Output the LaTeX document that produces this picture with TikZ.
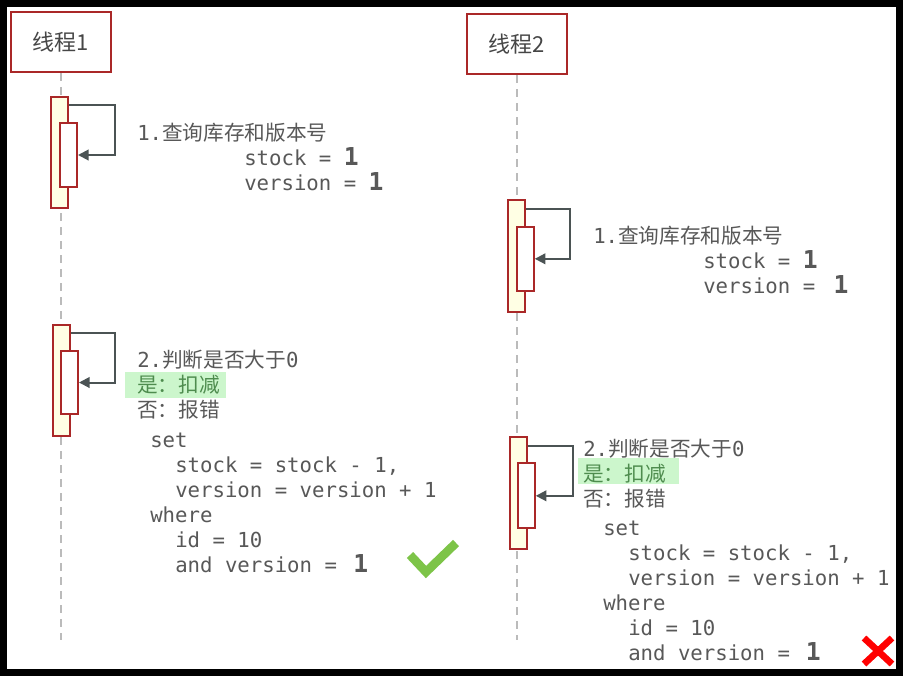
\documentclass[tikz,border=0pt]{standalone}
\usepackage{fontspec}
\setmonofont{DejaVu Sans Mono}
\newfontfamily\cjk{Noto Sans CJK SC}
\usetikzlibrary{arrows.meta,calc}
\definecolor{redline}{RGB}{170,40,40}
\definecolor{barfill}{RGB}{255,255,228}
\definecolor{txtgray}{RGB}{88,88,88}
\definecolor{arrgray}{RGB}{75,83,84}
\definecolor{greenbg}{RGB}{204,246,204}
\definecolor{greentxt}{RGB}{78,140,78}
\definecolor{checkgreen}{RGB}{125,196,72}
\definecolor{lifegray}{RGB}{187,187,187}
\newcommand{\bone}{{\fontsize{18.5pt}{18pt}\selectfont\bfseries 1}}
\newcommand{\mcj}[1]{{\cjk #1}}
\begin{document}
\begin{tikzpicture}[x=0.75pt,y=-0.75pt,
  participant/.style={draw=redline,line width=1.6pt,fill=white,minimum width=75pt,minimum height=45pt,inner sep=0pt,
     font=\cjk\fontsize{16.5pt}{18pt}\selectfont,text=txtgray!80!black},
  actbar/.style={draw=redline,line width=1.5pt,fill=barfill,minimum width=12.75pt,minimum height=#1,inner sep=0pt},
  inbar/.style={draw=redline,line width=1.5pt,fill=white,minimum width=12.75pt,minimum height=#1,inner sep=0pt},
  life/.style={draw=lifegray,line width=1.5pt,dash pattern=on 6pt off 4.5pt},
  msg/.style={draw=arrgray,line width=1.5pt,-{Triangle[length=8pt,width=8pt]}},
  code/.style={anchor=base west,inner sep=0pt,text=txtgray,font=\ttfamily\fontsize{15.5pt}{18pt}\selectfont},
  hl/.style={fill=greenbg,inner sep=0pt,minimum width=75.75pt,minimum height=19pt},
]
\useasboundingbox (0,0) rectangle (903,676);
\fill[white] (0,0) rectangle (903,676);
% participants
\node[participant] (p1) at (61,42) {线程1};
\node[participant] (p2) at (517,44) {线程2};
\coordinate (e1) at (61,640);
\coordinate (e2) at (517,640);
\draw[life] (p1.south) -- (e1);
\draw[life] (p2.south) -- (e2);
% activation bars thread 1
\node[actbar=83.25pt] (o1a) at (59.5,152.5) {};
\node[inbar=48pt] (i1a) at (68.5,155) {};
\node[actbar=83.25pt] (o1b) at (61.5,380.5) {};
\node[inbar=47.25pt] (i1b) at (69.5,382.5) {};
% activation bars thread 2
\node[actbar=84pt] (o2a) at (516.3,256) {};
\node[inbar=48.25pt] (i2a) at (525.3,258.8) {};
\node[actbar=83.75pt] (o2b) at (518.2,493.2) {};
\node[inbar=48.75pt] (i2b) at (526.3,495.8) {};
% self messages
\draw[msg] ([yshift=-7pt]o1a.north east) -- ++(46,0) |- (i1a.east);
\draw[msg] ([yshift=-7pt]o1b.north east) -- ++(44,0) |- (i1b.east);
\draw[msg] ([yshift=-7.5pt]o2a.north east) -- ++(44,0) |- (i2a.east);
\draw[msg] ([yshift=-7pt]o2b.north east) -- ++(45,0) |- (i2b.east);
% highlights
\node[hl] (h1) at (175.5,385) {};
\node[hl] (h2) at (628.3,471) {};
% thread 1 texts
\node[code] (a1) at (137,140) {1.\mcj{查询库存和版本号}};
\node[code] (a2) at (244,165) {stock = \bone};
\node[code] (a3) at (244,190) {version = \bone};
\node[code] (b1) at (137,367) {2.\mcj{判断是否大于}0};
\node[code,text=greentxt] (b2) at (137,392) {\mcj{是：扣减}};
\node[code] (b3) at (137,417) {\mcj{否：报错}};
\node[code] (b4) at (150,447) {set};
\node[code] (b5) at (175,472) {stock = stock - 1,};
\node[code] (b6) at (175,497) {version = version + 1};
\node[code] (b7) at (150,522) {where};
\node[code] (b8) at (175,547) {id = 10};
\node[code] (b9) at (175,572) {and version = \hspace{3pt}\bone};
% thread 2 texts
\node[code] (c1) at (593,243) {1.\mcj{查询库存和版本号}};
\node[code] (c2) at (703,268) {stock = \bone};
\node[code] (c3) at (703,293) {version = \hspace{4.5pt}\bone};
\node[code] (d1) at (583,456) {2.\mcj{判断是否大于}0};
\node[code,text=greentxt] (d2) at (583,481) {\mcj{是：扣减}};
\node[code] (d3) at (583,506) {\mcj{否：报错}};
\node[code] (d4) at (603,535) {set};
\node[code] (d5) at (628,560) {stock = stock - 1,};
\node[code] (d6) at (628,585) {version = version + 1};
\node[code] (d7) at (603,610) {where};
\node[code] (d8) at (628,635) {id = 10};
\node[code] (d9) at (628,660) {and version = \hspace{2.5pt}\bone};
% check mark and cross
\draw[checkgreen,line width=6.5pt] (410,555) -- (426,572) -- (456,543);
\draw[red,line width=5pt] (864,638) -- (892,664) (892,638) -- (864,664);
% frame
\draw[black,line width=5.25pt] (3.5,3.5) rectangle (899.5,672.5);
\end{tikzpicture}
\end{document}
